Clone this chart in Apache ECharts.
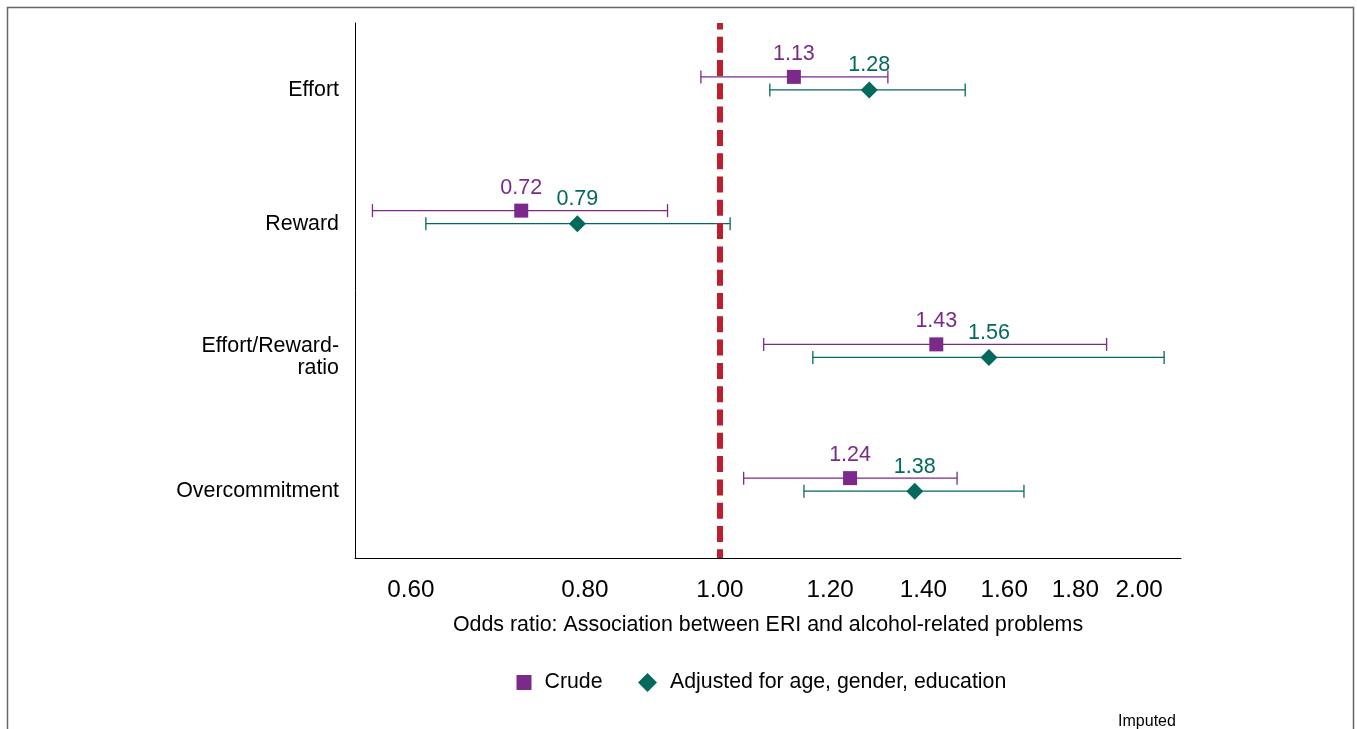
<!DOCTYPE html>
<html><head><meta charset="utf-8">
<script src="https://cdn.jsdelivr.net/npm/echarts@6/dist/echarts.min.js"></script>
<style>html,body{margin:0;padding:0;background:#fff}#c{width:1357px;height:729px}</style>
</head><body><div id="c"></div>
<script>
// ---- data (odds ratios with 95% CI) ----
const categories = ['Effort', 'Reward', 'Effort/Reward-\nratio', 'Overcommitment'];
const crudeOR   = [1.13, 0.72, 1.43, 1.24];
const crudeLow  = [0.969, 0.563, 1.075, 1.040];
const crudeHigh = [1.32, 0.917, 1.895, 1.48];
const adjOR     = [1.28, 0.79, 1.56, 1.38];
const adjLow    = [1.086, 0.615, 1.166, 1.149];
const adjHigh   = [1.50, 1.017, 2.084, 1.653];
const tickValues = [0.60, 0.80, 1.00, 1.20, 1.40, 1.60, 1.80, 2.00];
const xRange = [0.547, 2.143];
const refValue = 1.0;
const seriesNames = ['Crude', 'Adjusted for age, gender, education'];
const axisTitle = 'Odds ratio: Association between ERI and alcohol-related problems';
const footNote = 'Imputed';

const FONT = '"Liberation Sans", Arial, sans-serif';
const PURPLE = '#7B2A8A';
const GREEN = '#03695C';
const RED = '#BE1E2D';
const ln = Math.log;

function errRender(offset, color) {
  return function (params, api) {
    const ci = api.value(0);
    const p1 = api.coord([api.value(1), ci]);
    const p2 = api.coord([api.value(2), ci]);
    const y = p1[1] + offset, h = 6.5;
    const style = { stroke: color, lineWidth: 1.3 };
    return { type: 'group', children: [
      { type: 'line', shape: { x1: p1[0], y1: y, x2: p2[0], y2: y }, style: style },
      { type: 'line', shape: { x1: p1[0], y1: y - h, x2: p1[0], y2: y + h }, style: style },
      { type: 'line', shape: { x1: p2[0], y1: y - h, x2: p2[0], y2: y + h }, style: style }
    ]};
  };
}

const crudeBars = categories.map((c, i) => [i, ln(crudeLow[i]), ln(crudeHigh[i])]);
const adjBars = categories.map((c, i) => [i, ln(adjLow[i]), ln(adjHigh[i])]);
const crudePts = categories.map((c, i) => [ln(crudeOR[i]), i]);
const adjPts = categories.map((c, i) => [ln(adjOR[i]), i]);

const chart = echarts.init(document.getElementById('c'), null, { renderer: 'canvas' });
chart.setOption({
  animation: false,
  backgroundColor: '#fff',
  grid: { left: 355, right: 176, top: 23, bottom: 171 },
  xAxis: {
    type: 'value', min: ln(xRange[0]), max: ln(xRange[1]),
    axisLine: { show: true, onZero: false, lineStyle: { color: '#000', width: 1 } },
    axisTick: { show: false }, splitLine: { show: false },
    axisLabel: {
      customValues: tickValues.map(v => ln(v)),
      formatter: v => Math.exp(v).toFixed(2),
      fontSize: 24.3, color: '#000', fontFamily: FONT, margin: 20
    },
    name: axisTitle, nameLocation: 'middle', nameGap: 57,
    nameTextStyle: { fontSize: 21.4, color: '#000', fontFamily: FONT }
  },
  yAxis: {
    type: 'category', data: categories, inverse: true,
    axisLine: { show: true, onZero: false, lineStyle: { color: '#000', width: 1 } },
    axisTick: { show: false }, splitLine: { show: false },
    axisLabel: { fontSize: 21.4, color: '#000', fontFamily: FONT, margin: 16, lineHeight: 22, align: 'right' }
  },
  legend: [
    { data: [{ name: seriesNames[0], icon: 'rect' }], left: 516.5, top: 672, padding: 0,
      itemWidth: 15, itemHeight: 15, selectedMode: false,
      textStyle: { fontSize: 21.3, color: '#000', fontFamily: FONT, padding: [0, 0, 0, 8] } },
    { data: [{ name: seriesNames[1], icon: 'diamond' }], left: 638, top: 672, padding: 0,
      itemWidth: 19, itemHeight: 19, selectedMode: false,
      textStyle: { fontSize: 21.3, color: '#000', fontFamily: FONT, padding: [0, 0, 0, 8] } }
  ],
  graphic: [
    { type: 'rect', silent: true, shape: { x: 7.5, y: 7.5, width: 1346, height: 800 },
      style: { fill: 'none', stroke: '#666', lineWidth: 1.5 } },
    { type: 'text', silent: true, style: { text: footNote, x: 1147, y: 714, align: 'center',
      verticalAlign: 'top', fontSize: 16, fontFamily: FONT, fill: '#000' } }
  ],
  series: [
    { name: 'crudeCI', type: 'custom', renderItem: errRender(-13, PURPLE), data: crudeBars,
      encode: { x: [1, 2], y: 0 }, z: 2, silent: true },
    { name: 'adjCI', type: 'custom', renderItem: errRender(0, GREEN), data: adjBars,
      encode: { x: [1, 2], y: 0 }, z: 2, silent: true },
    { name: seriesNames[0], type: 'scatter', data: crudePts, symbol: 'rect', symbolSize: 14,
      symbolOffset: [0, -13], itemStyle: { color: PURPLE, opacity: 1 }, z: 4,
      label: { show: true, position: 'top', distance: 5, color: PURPLE, fontSize: 21.5, fontFamily: FONT,
        formatter: p => crudeOR[p.dataIndex].toFixed(2) } },
    { name: seriesNames[1], type: 'scatter', data: adjPts, symbol: 'diamond', symbolSize: 17,
      itemStyle: { color: GREEN, opacity: 1 }, z: 4,
      label: { show: true, position: 'top', distance: 5, color: GREEN, fontSize: 21.5, fontFamily: FONT,
        formatter: p => adjOR[p.dataIndex].toFixed(2) },
      markLine: { silent: true, symbol: 'none', z: 3, label: { show: false },
        lineStyle: { color: RED, width: 6, type: [16, 7.3], dashOffset: 9.6 },
        data: [{ xAxis: ln(refValue) }] } }
  ]
});
</script></body></html>
